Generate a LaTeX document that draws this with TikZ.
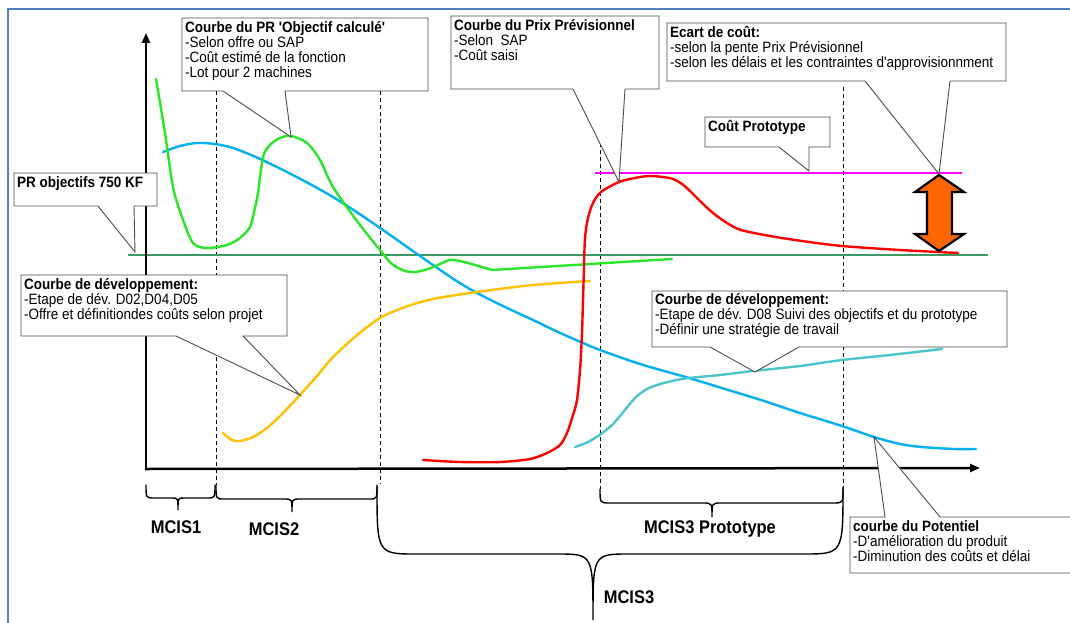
\documentclass[tikz,border=0pt]{standalone}
\usepackage{fontspec}
\newfontfamily\arial{Liberation Sans}[FakeStretch=0.9]
\usetikzlibrary{arrows.meta}

\definecolor{frameblue}{RGB}{79,129,189}
\definecolor{objgreen}{RGB}{40,230,40}
\definecolor{refgreen}{RGB}{60,155,100}
\definecolor{potblue}{RGB}{0,176,240}
\definecolor{devyellow}{RGB}{255,192,0}
\definecolor{devteal}{RGB}{75,198,200}
\definecolor{protomag}{RGB}{255,0,255}
\definecolor{prevred}{RGB}{255,0,0}
\definecolor{gaporange}{RGB}{255,102,0}

% callout whose pointer leaves the bottom edge: x1,y1,x2,y2,base left,base right,tip
\newcommand\calloutbelow[7]{%
  \path[callout] (#1,#2) -- (#3,#2) -- (#3,#4) -- (#6,#4) -- (#7) -- (#5,#4) -- (#1,#4) -- cycle;}
% callout whose pointer leaves the top edge
\newcommand\calloutabove[7]{%
  \path[callout] (#1,#2) -- (#5,#2) -- (#7) -- (#6,#2) -- (#3,#2) -- (#3,#4) -- (#1,#4) -- cycle;}
% horizontal curly brace: x1,x2,xtip,ytop,ymid,ytip,end radius,tip radius
\newcommand\phasebrace[8]{%
  \draw[bracepath] (#1,#4) .. controls (#1,#5) .. ({#1+#7},#5) -- ({#3-#8},#5)
    .. controls (#3,#5) .. (#3,#6) .. controls (#3,#5) .. ({#3+#8},#5)
    -- ({#2-#7},#5) .. controls (#2,#5) .. (#2,#4);}

\begin{document}
\begin{tikzpicture}[x=1pt,y=-1pt,
  curve/.style={line width=2.4pt, line cap=round, line join=round},
  guide/.style={black, line width=0.9pt, dash pattern=on 4pt off 3pt},
  callout/.style={fill=white, draw=black!70, line width=0.9pt, line join=miter},
  txt/.style={anchor=north west, inner sep=0pt, align=left,
    font=\arial\fontsize{15}{15}\selectfont},
  phase/.style={anchor=base, inner sep=0pt, font=\arial\fontsize{18.3}{20}\bfseries\selectfont},
  bracepath/.style={black, line width=1.4pt, line cap=round},
  axis/.style={black, line width=2.5pt, -{Triangle[length=10pt,width=8pt]}}
]
\useasboundingbox (0,0) rectangle (1070,623);
\clip (0,0) rectangle (1070,623);
\fill[white] (0,0) rectangle (1070,623);

% page frame
\draw[frameblue, line width=2pt] (8,623) -- (8,9) -- (1070,9);

% phase separators
\draw[guide] (216,91) -- (216,485);
\draw[guide] (380,91) -- (380,484);
\draw[guide] (600,87) -- (600,489);
\draw[guide] (843,87) -- (843,489);

% target price level
\coordinate (tgtL) at (128,255);
\coordinate (tgtR) at (988,255);
\draw[refgreen, line width=2.4pt] (tgtL) -- (tgtR);

% prototype cost level
\coordinate (magL) at (595,173);
\coordinate (magR) at (962,173);
\draw[protomag, line width=2.4pt] (magL) -- (magR);

% axes
\coordinate (origin) at (146,469);
\coordinate (ytop) at (146,33);
\coordinate (xend) at (980,468);
\draw[axis] (origin) -- (ytop);
\draw[axis] ([xshift=-1.2pt]origin) -- (xend);

% potential curve
\draw[curve, potblue] plot[smooth, tension=0.5] coordinates {
  (163,152) (180,146) (197,143) (215,144) (233,148) (258,158) (283,170)
  (308,183) (333,197) (358,213) (383,230) (410,249) (433,265) (455,280)
  (477,293) (505,307) (533,320) (558,332) (583,343) (600,350) (640,364)
  (689,378) (725,389) (761,400) (800,413) (842,426) (874,437) (900,444)
  (922,447) (954,449) (976,449)};

% computed target curve
\draw[curve, objgreen] plot[smooth, tension=0.5] coordinates {
  (156,79) (165,133) (173,187) (182,217) (193,243) (207,248) (227,245)
  (240,238) (250,227) (254,212) (258,193) (263,157) (270,145) (280,138)
  (291,136) (307,143) (320,160) (333,187) (357,221) (380,250) (392,264)
  (405,271) (415,272) (428,269) (440,264) (450,260) (460,261) (475,265)
  (492,270)} -- (672,259);

% first development curve
\draw[curve, devyellow] plot[smooth, tension=0.5] coordinates {
  (223,433) (232,440) (240,441) (253,437) (267,428) (283,413) (300,395)
  (317,376) (333,357) (356,336) (380,318) (405,307) (433,299) (477,292)
  (533,285) (590,281)};

% forecast price curve
\draw[curve, prevred] plot[smooth, tension=0.5] coordinates {
  (423,460) (460,462) (500,462) (530,459) (547,453) (560,445) (567,433)
  (573,415) (577,400) (580,370) (582,333) (583,300) (584,267) (585,238)
  (588,218) (593,203) (601,192) (619,182) (635,178) (649,176) (663,177)
  (673,179) (682,184) (690,191) (700,201) (713,213) (727,223) (741,230)
  (770,236) (802,241) (842,246) (900,250) (958,253)};

% second development curve
\draw[curve, devteal] plot[smooth, tension=0.5] coordinates {
  (575,447) (588,442) (601,434) (612,425) (620,416) (629,405) (637,396)
  (647,389) (657,385) (672,381) (689,378) (720,375) (753,371) (800,366)
  (842,360) (890,355) (942,349)};

% cost gap arrow
\coordinate (gaptop) at (939,174);
\draw[fill=gaporange, draw=black, line width=2.2pt, line join=miter]
  (939,175) -- (964,192) -- (952,192) -- (952,234) -- (964,234) -- (939,251)
  -- (915,234) -- (927,234) -- (927,192) -- (915,192) -- cycle;

% pointer tips
\coordinate (tipPR)    at (291,137);
\coordinate (tipObj)   at (135,252);
\coordinate (tipPrev)  at (619,182);
\coordinate (tipProto) at (809,171);
\coordinate (tipDevA)  at (300,395);
\coordinate (tipDevB)  at (755,372);
\coordinate (tipPot)   at (874,437);

% callouts
\calloutbelow{182}{18}{428}{91}{223}{285}{tipPR}
\node[txt] (prcalc) at (185,21) {\rule{0pt}{11.5pt}\textbf{Courbe du PR 'Objectif calculé'}\\
  -Selon offre ou SAP\\-Coût estimé de la fonction\\-Lot pour 2 machines};

\calloutbelow{14}{173}{157}{206}{98}{134}{tipObj}
\node[txt] (probj) at (17,176) {\rule{0pt}{11.5pt}\textbf{PR objectifs 750 KF}};

\calloutbelow{451}{16}{659}{89}{573}{625}{tipPrev}
\node[txt] (prev) at (454,18.5) {\rule{0pt}{11.5pt}\textbf{Courbe du Prix Prévisionnel}\\
  -Selon\ \ SAP\\-Coût saisi};

\calloutbelow{667}{23}{1006}{81}{865}{950}{gaptop}
\node[txt] (ecart) at (670,25.5) {\rule{0pt}{11.5pt}\textbf{Ecart de coût:}\\
  -selon la pente Prix Prévisionnel\\
  -selon les délais et les contraintes d'approvisionnment};

\calloutbelow{705}{117}{830}{147}{779}{809}{tipProto}
\node[txt] (proto) at (708,119.5) {\rule{0pt}{11.5pt}\textbf{Coût Prototype}};

\calloutbelow{21}{275}{287}{336}{176}{243}{tipDevA}
\node[txt] (devA) at (24,277.5) {\rule{0pt}{11.5pt}\textbf{Courbe de développement:}\\
  -Etape de dév. D02,D04,D05\\-Offre et définitiondes coûts selon projet};

\calloutbelow{652}{291}{1007}{347}{710}{799}{tipDevB}
\node[txt] (devB) at (655,292.5) {\rule{0pt}{11.5pt}\textbf{Courbe de développement:}\\
  -Etape de dév. D08 Suivi des objectifs et du prototype\\
  -Définir une stratégie de travail};

\calloutabove{850}{517}{1090}{573}{885}{940}{tipPot}
\node[txt] (pot) at (853,519.5) {\rule{0pt}{11.5pt}\textbf{courbe du Potentiel}\\
  -D'amélioration du produit\\-Diminution des coûts et délai};

% phase braces
\phasebrace{146}{215}{178}{485}{498}{510}{8}{6}
\phasebrace{216}{377}{292}{485}{499}{512}{8}{8}
\phasebrace{600}{843}{712}{489}{503}{517}{10}{9}
\phasebrace{377}{843}{593}{487}{554}{620}{40}{36}

\node[phase] (mcisA) at (176,533) {MCIS1};
\node[phase] (mcisB) at (274,535) {MCIS2};
\node[phase] (mcisP) at (710,533) {MCIS3 Prototype};
\node[phase] (mcisC) at (629,603) {MCIS3};
\end{tikzpicture}
\end{document}
